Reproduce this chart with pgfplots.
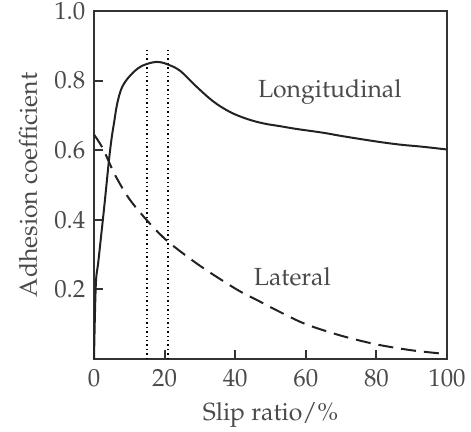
\documentclass[border=0pt]{standalone}
\usepackage[T1]{fontenc}
\usepackage{mathpazo}
\usepackage{pgfplots}
\pgfplotsset{compat=1.18}

\definecolor{axisgray}{HTML}{333333}
\definecolor{textgray}{HTML}{4A4A4A}
\definecolor{curve}{HTML}{222222}

% Adhesion coefficient versus slip ratio
\pgfplotstableread{
x     y
0     0
0.5   0.21
1.2   0.277
2.0   0.352
3.0   0.447
4.25  0.572
5.0   0.635
5.7   0.680
6.6   0.735
8.0   0.782
10.4  0.816
13.2  0.840
16.5  0.852
18.7  0.853
21.0  0.846
24.4  0.828
29.1  0.782
33.8  0.740
38.5  0.710
43.3  0.690
48.0  0.677
52.7  0.669
57.4  0.661
65.0  0.650
70.6  0.640
80.0  0.625
86.7  0.616
93.0  0.610
100   0.602
}\longitudinal

\pgfplotstableread{
x     y
0     0.645
2.5   0.605
5.9   0.530
10.0  0.460
15.3  0.395
21.0  0.337
30.0  0.268
40.4  0.200
47.0  0.165
52.7  0.135
60.0  0.100
70.0  0.067
80.0  0.042
90.0  0.025
100   0.014
}\lateral

\begin{document}
\fontsize{12.4}{14.5}\selectfont
\begin{tikzpicture}
\path[use as bounding box] (-47pt,-36.5pt) rectangle (188.5pt,179.5pt);
\begin{axis}[
  scale only axis,
  width=176.5pt, height=174pt,
  xmin=0, xmax=100, ymin=0, ymax=1.0,
  xtick={0,20,40,60,80,100},
  ytick={0.2,0.4,0.6,0.8,1.0},
  yticklabel style={/pgf/number format/.cd,fixed,fixed zerofill,precision=1},
  xticklabel style={yshift=-1pt},
  tick pos=left,
  tick align=inside,
  major tick length=4.5pt,
  axis line style={axisgray, line width=1pt},
  every tick/.style={axisgray, line width=1pt},
  ticklabel style={font=\fontsize{12.4}{14.5}\selectfont, text=textgray},
  label style={font=\fontsize{12.4}{14.5}\selectfont, text=textgray},
  xlabel={Slip ratio/\%},
  ylabel={Adhesion coefficient},
  xlabel style={yshift=1pt},
  ylabel style={yshift=0pt},
  clip=false,
]
% slip ratio window around the peak
\addplot[black, line width=0.8pt, dash pattern=on 0.7pt off 1.5pt] coordinates {(15,0) (15,0.89)};
\addplot[black, line width=0.8pt, dash pattern=on 0.7pt off 1.5pt] coordinates {(21,0) (21,0.89)};

\addplot[curve, line width=1pt, smooth, tension=0.6] table[x=x,y=y] {\longitudinal};
\addplot[curve, line width=1pt, smooth, tension=0.5, dash pattern=on 7.5pt off 4pt] table[x=x,y=y] {\lateral};

\node[anchor=base, text=textgray] at (axis cs:66.8,0.752) {Longitudinal};
\node[anchor=base, text=textgray] at (axis cs:56.2,0.211) {Lateral};
\end{axis}
\end{tikzpicture}
\end{document}
